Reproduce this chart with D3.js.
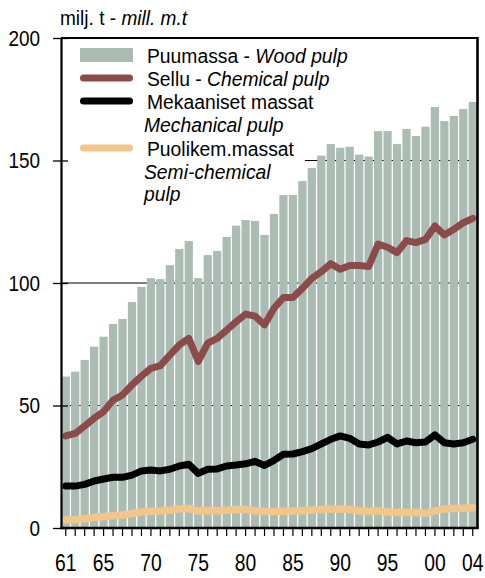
<!DOCTYPE html>
<html>
<head>
<meta charset="utf-8">
<script src="https://cdn.jsdelivr.net/npm/d3@7"></script>
<style>
  html, body { margin: 0; padding: 0; background: #fff; }
  svg { display: block; }
  text { font-family: "Liberation Sans", Arial, sans-serif; fill: #000; }
</style>
</head>
<body>
<svg id="chart" width="485" height="578"></svg>
<script>
// ---- Data ----
const years = d3.range(1961, 2005);
const woodPulp = [61.8, 63.8, 68.6, 74.0, 78.1, 83.3, 85.3, 92.2, 98.4, 102.0,
                  101.6, 107.3, 113.9, 117.1, 102.0, 111.4, 113.1, 118.8, 123.4, 125.7,
                  125.3, 119.6, 128.2, 135.9, 135.9, 141.6, 146.9, 152.0, 156.7, 155.2,
                  155.6, 152.4, 151.6, 162.0, 162.0, 156.7, 162.9, 160.0, 163.8, 171.8,
                  166.1, 168.2, 171.0, 173.9];
const chemicalPulp = [37.6, 38.6, 41.6, 44.8, 47.5, 52.2, 54.3, 58.4, 62.0, 65.2,
                      66.3, 70.6, 74.7, 77.4, 68.0, 75.5, 77.4, 80.8, 84.2, 87.3,
                      86.5, 82.9, 89.7, 94.1, 94.1, 97.8, 101.9, 104.6, 107.9, 105.6,
                      107.1, 107.1, 106.7, 115.9, 114.6, 112.4, 117.3, 116.5, 117.8, 123.3,
                      119.6, 121.9, 124.6, 126.4];
const mechanicalPulp = [17.1, 17.1, 17.8, 19.2, 20.0, 20.7, 20.7, 21.6, 23.3, 23.7,
                        23.3, 24.0, 25.3, 26.0, 22.3, 24.0, 24.1, 25.3, 25.7, 26.2,
                        27.2, 25.5, 27.6, 30.1, 30.2, 31.2, 32.4, 34.3, 36.2, 37.6,
                        36.6, 34.3, 33.9, 35.1, 37.0, 34.3, 35.5, 34.8, 35.1, 38.0,
                        34.8, 34.3, 34.8, 36.2];
const semiChemicalPulp = [3.3, 3.5, 3.8, 4.4, 4.6, 5.0, 5.3, 5.9, 6.5, 6.8,
                          6.9, 7.3, 7.8, 8.0, 6.9, 7.1, 7.0, 7.3, 7.6, 7.6,
                          7.0, 6.7, 6.7, 6.8, 6.9, 7.0, 7.3, 7.6, 7.8, 7.8,
                          7.6, 7.0, 6.7, 7.0, 6.5, 6.3, 6.3, 6.3, 6.0, 7.0,
                          7.8, 8.0, 8.1, 8.3];
const yTicks = [0, 50, 100, 150, 200];
const xTickLabels = ["61", "65", "70", "75", "80", "85", "90", "95", "00", "04"];
const xLabelYears = [1961, 1965, 1970, 1975, 1980, 1985, 1990, 1995, 2000, 2004];
const yTitleRegular = "milj. t - ";
const yTitleItalic = "mill. m.t";

// ---- Styles ----
const colBar = "#abbcb4";
const colChem = "#8b4b49";
const colMech = "#000000";
const colSemi = "#f1c68a";

const svg = d3.select("#chart");
const pL = 61, pR = 477.5, pT = 38, pB = 528;

const x = d3.scaleBand().domain(years).range([pL, pR]).paddingInner(0.13).paddingOuter(0.065);
const y = d3.scaleLinear().domain([0, 200]).range([pB, pT]);
const cx = d => x(d) + x.bandwidth() / 2;

// condensed text helper
function ctext(parent, tx, ty, size, sx) {
  return parent.append("text")
    .attr("transform", `translate(${tx},${ty}) scale(${sx},1)`)
    .attr("font-size", size);
}

// Gridlines (behind bars)
svg.append("g").selectAll("line").data([50, 100, 150]).join("line")
  .attr("x1", pL).attr("x2", pR)
  .attr("y1", d => y(d)).attr("y2", d => y(d))
  .attr("stroke", "#000").attr("stroke-width", 1.2);

// Legend background hides gridlines
svg.append("rect").attr("x", pL + 1).attr("y", pT + 1).attr("width", 243).attr("height", 165).attr("fill", "#fff");

// Bars
svg.append("g").selectAll("rect").data(years).join("rect")
  .attr("x", d => x(d))
  .attr("width", x.bandwidth())
  .attr("y", (d, i) => y(woodPulp[i]))
  .attr("height", (d, i) => y(0) - y(woodPulp[i]))
  .attr("fill", colBar);

// Lines
const lineGen = arr => d3.line().x((d, i) => cx(years[i])).y(d => y(d)).curve(d3.curveLinear)(arr);
[[chemicalPulp, colChem, 7], [mechanicalPulp, colMech, 7], [semiChemicalPulp, colSemi, 7.5]].forEach(([arr, c, w]) => {
  svg.append("path").attr("d", lineGen(arr)).attr("fill", "none").attr("stroke", c)
    .attr("stroke-width", w).attr("stroke-linejoin", "round").attr("stroke-linecap", "round");
});

// Frame
svg.append("line").attr("x1", pL).attr("x2", pR).attr("y1", pT).attr("y2", pT).attr("stroke", "#000").attr("stroke-width", 2);
svg.append("line").attr("x1", pR).attr("x2", pR).attr("y1", pT - 1).attr("y2", pB + 1).attr("stroke", "#000").attr("stroke-width", 2.6);

// Y axis
const yAxis = d3.axisLeft(y).tickValues(yTicks).tickSize(0).tickPadding(0).tickFormat("");
const gy = svg.append("g").attr("transform", `translate(${pL},0)`).call(yAxis);
gy.select(".domain").attr("stroke", "#000").attr("stroke-width", 2.2);
gy.selectAll(".tick line").remove();
gy.selectAll(".tick").append("line").attr("x1", -8).attr("x2", 7).attr("stroke", "#000").attr("stroke-width", 1.3);
const yl = svg.append("g");
yTicks.forEach(v => {
  ctext(yl, 40, y(v) + 7.8, 22, 0.86).attr("text-anchor", "end").text(v);
});

// X axis
const xAxis = d3.axisBottom(x).tickSize(8).tickFormat("");
const gx = svg.append("g").attr("transform", `translate(0,${pB})`).call(xAxis);
gx.select(".domain").attr("d", `M${pL - 1},0H${pR + 1}`).attr("stroke", "#000").attr("stroke-width", 2.4);
gx.selectAll(".tick line").attr("stroke", "#000").attr("stroke-width", 1.2).attr("y1", 1);

const xl = svg.append("g");
xLabelYears.forEach((yr, i) => {
  ctext(xl, cx(yr), 571, 23, 0.84).attr("text-anchor", "middle").text(xTickLabels[i]);
});

// Title
const t = ctext(svg, 60, 25, 20.5, 0.93);
t.append("tspan").text(yTitleRegular);
t.append("tspan").attr("font-style", "italic").text(yTitleItalic);

// Legend
const lg = svg.append("g");
lg.append("rect").attr("x", 80).attr("y", 48).attr("width", 53).attr("height", 14).attr("fill", colBar);
[[78, colChem], [101, colMech], [148, colSemi]].forEach(([ly, c]) => {
  lg.append("line").attr("x1", 83.5).attr("x2", 129.5).attr("y1", ly).attr("y2", ly)
    .attr("stroke", c).attr("stroke-width", 7).attr("stroke-linecap", "round");
});
const legendRows = [
  [147, 63, "Puumassa - ", "Wood pulp"],
  [147, 86, "Sellu - ", "Chemical pulp"],
  [147, 109, "Mekaaniset massat", ""],
  [144, 132, "", "Mechanical pulp"],
  [147, 155.5, "Puolikem.massat", ""],
  [144, 178.5, "", "Semi-chemical"],
  [144, 201, "", "pulp"]
];
legendRows.forEach(([lx, ly, reg, it]) => {
  const tx = ctext(lg, lx, ly, 21, 0.92);
  if (reg) tx.append("tspan").text(reg);
  if (it) tx.append("tspan").attr("font-style", "italic").text(it);
});
</script>
</body>
</html>
